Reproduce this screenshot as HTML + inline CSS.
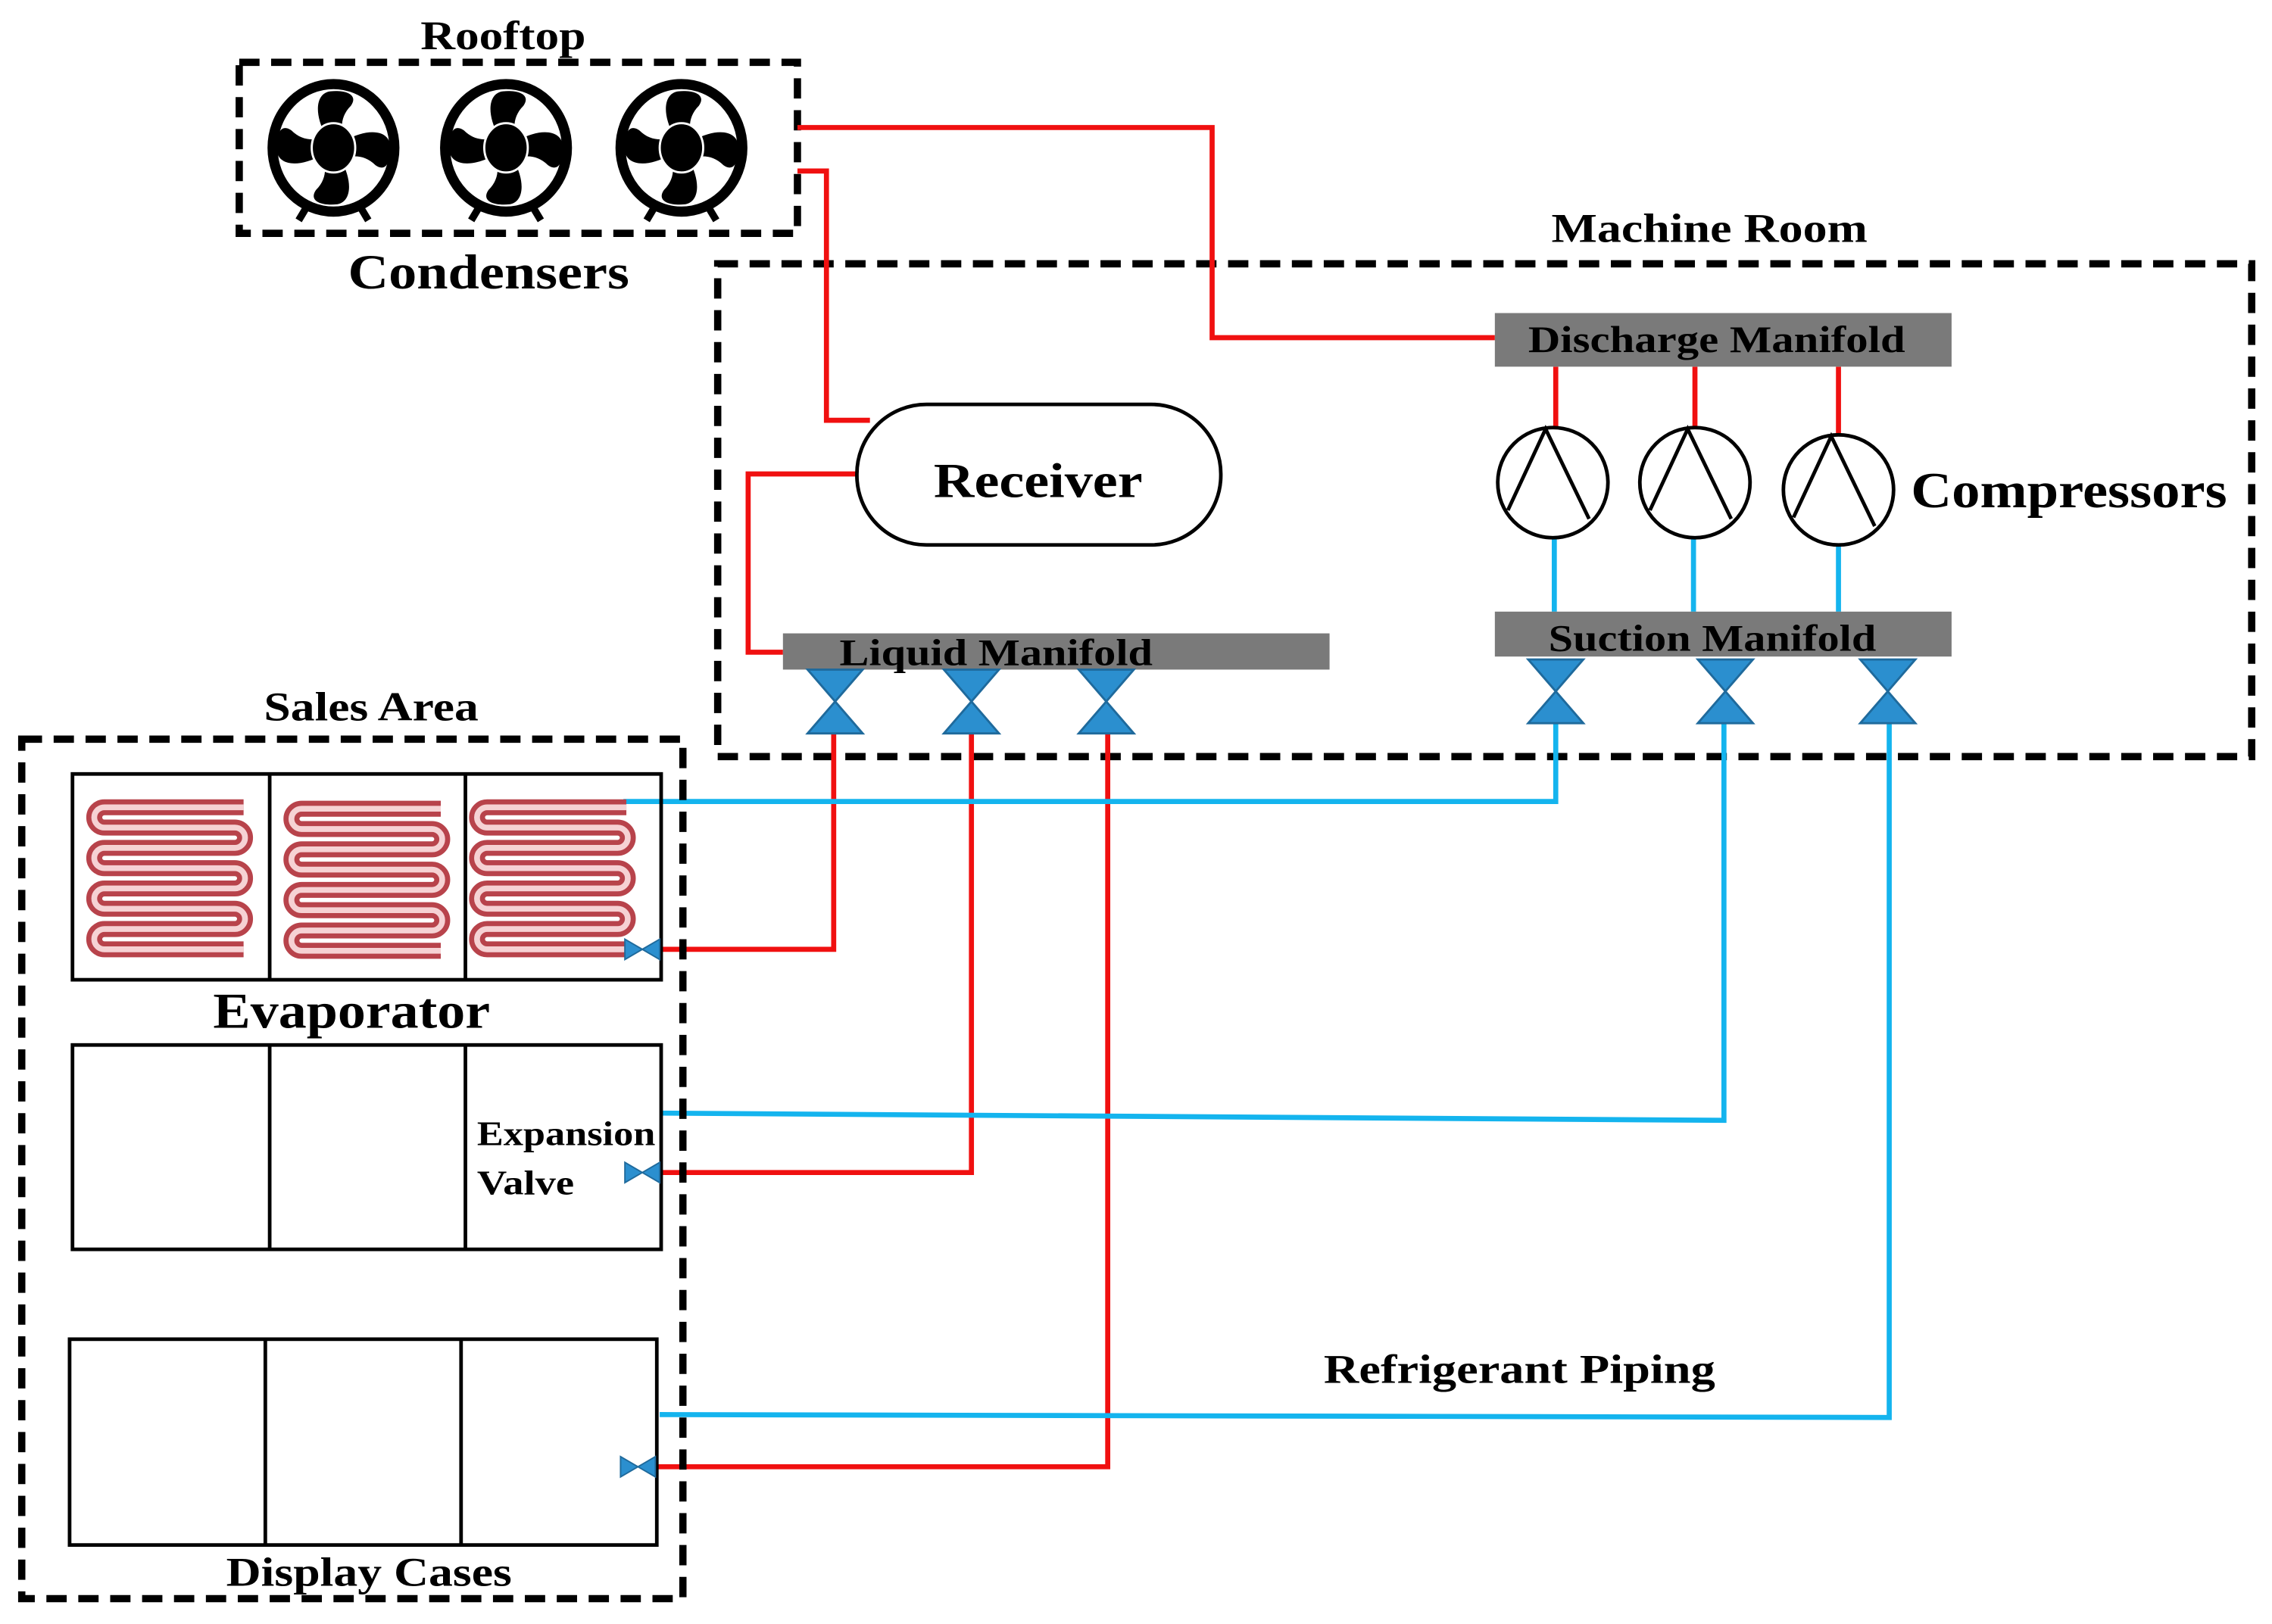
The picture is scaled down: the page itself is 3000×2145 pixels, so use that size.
<!DOCTYPE html>
<html><head><style>html,body{margin:0;padding:0;background:#fff}svg{display:block}</style></head><body>
<svg width="3000" height="2145" viewBox="0 0 1567 1120.5" preserveAspectRatio="none" xmlns="http://www.w3.org/2000/svg" font-family="Liberation Serif, serif" font-weight="bold">
<defs>
<g id="fan">
<ellipse cx="0" cy="0" rx="42" ry="44" fill="none" stroke="#000" stroke-width="7"/>
<path d="M-18,40 L-24,50 M18,40 L24,50" stroke="#000" stroke-width="5"/>
<g id="bl"><path d="M-5,-8 C-14,-24 -12,-38 -2,-39 C10,-40 17,-36 12,-29 C5,-22 5,-14 7,-8 Z" fill="#000"/></g>
<use href="#bl" transform="rotate(90)"/><use href="#bl" transform="rotate(180)"/><use href="#bl" transform="rotate(270)"/>
<ellipse cx="0" cy="0" rx="15" ry="17" fill="#000" stroke="#fff" stroke-width="1.5"/>
</g>
<path id="coilp" d="M106,557 L10,557 A7,7 0 0 0 10,571 L100,571 A7,7 0 0 1 100,585 L10,585 A7,7 0 0 0 10,599 L100,599 A7,7 0 0 1 100,613 L10,613 A7,7 0 0 0 10,627 L100,627 A7,7 0 0 1 100,641 L10,641 A7,7 0 0 0 10,655 L106,655"/>
<g id="coil"><use href="#coilp" fill="none" stroke="#b8434b" stroke-width="11"/><use href="#coilp" fill="none" stroke="#f6d2d4" stroke-width="4"/></g>
<g id="vv"><polygon points="-19,0 19,0 0,22 -19,44 19,44" fill="#2b8fcf" stroke="#1f6a9c" stroke-width="1.5"/></g>
<g id="hv"><polygon points="0,-7 0,7 12,0 24,-7 24,7 12,0" fill="#2b8fcf" stroke="#1f6a9c" stroke-width="1"/></g>
</defs>

<text x="290" y="34" font-size="28" textLength="114" lengthAdjust="spacingAndGlyphs">Rooftop</text>
<rect x="165" y="43" width="385" height="118" fill="none" stroke="#000" stroke-width="5" stroke-dasharray="14,8"/>
<use href="#fan" x="230" y="102"/><use href="#fan" x="349" y="102"/><use href="#fan" x="470" y="102"/>
<text x="240" y="199" font-size="34" textLength="194" lengthAdjust="spacingAndGlyphs">Condensers</text>

<text x="1070" y="167" font-size="28" textLength="218" lengthAdjust="spacingAndGlyphs">Machine Room</text>
<rect x="495" y="182" width="1058" height="340" fill="none" stroke="#000" stroke-width="5" stroke-dasharray="14,8"/>

<g fill="none" stroke="#f01010" stroke-width="3.5">
<polyline points="550,88 836,88 836,233 1031,233"/>
<polyline points="550,118 570,118 570,290 600,290"/>
<polyline points="591,327 516,327 516,450 540,450"/>
<line x1="1073" y1="253" x2="1073" y2="295"/><line x1="1169" y1="253" x2="1169" y2="295"/><line x1="1268" y1="253" x2="1268" y2="300"/>
<polyline points="575,506 575,655 455,655"/>
<polyline points="670,506 670,809 455,809"/>
<polyline points="764,506 764,1012 452,1012"/>
</g>
<g fill="none" stroke="#14b4ee" stroke-width="3.5">
<line x1="1072" y1="371" x2="1072" y2="422"/><line x1="1168" y1="371" x2="1168" y2="422"/><line x1="1268" y1="376" x2="1268" y2="422"/>
<polyline points="1073,498 1073,553 430,553"/>
<polyline points="1189,498 1189,773 455,768"/>
<polyline points="1303,498 1303,978 455,976"/>
</g>

<rect x="1031" y="216" width="315" height="37" fill="#7a7a7a"/>
<text x="1054" y="243" font-size="26" textLength="260" lengthAdjust="spacingAndGlyphs">Discharge Manifold</text>
<g fill="#fff" stroke="#000" stroke-width="2.5">
<circle cx="1071" cy="333" r="38"/><circle cx="1169" cy="333" r="38"/><circle cx="1268" cy="338" r="38"/>
</g>
<g fill="none" stroke="#000" stroke-width="2.5">
<polyline points="1040,352 1066,296 1096,358"/><polyline points="1138,352 1164,296 1194,358"/><polyline points="1237,357 1263,301 1293,363"/>
</g>
<text x="1318" y="350" font-size="35" textLength="218" lengthAdjust="spacingAndGlyphs">Compressors</text>
<rect x="1031" y="422" width="315" height="31" fill="#7a7a7a"/>
<text x="1068" y="449" font-size="26" textLength="226" lengthAdjust="spacingAndGlyphs">Suction Manifold</text>

<rect x="591" y="279" width="251" height="97" rx="48" fill="#fff" stroke="#000" stroke-width="2.5"/>
<text x="644" y="343" font-size="34" textLength="144" lengthAdjust="spacingAndGlyphs">Receiver</text>

<rect x="540" y="437" width="377" height="25" fill="#7a7a7a"/>
<text x="579" y="459" font-size="26" textLength="216" lengthAdjust="spacingAndGlyphs">Liquid Manifold</text>

<use href="#vv" x="576" y="462"/><use href="#vv" x="670" y="462"/><use href="#vv" x="763" y="462"/>
<use href="#vv" x="1073" y="455"/><use href="#vv" x="1190" y="455"/><use href="#vv" x="1302" y="455"/>

<text x="182" y="497" font-size="28" textLength="148" lengthAdjust="spacingAndGlyphs">Sales Area</text>
<rect x="15" y="510" width="456" height="593" fill="none" stroke="#000" stroke-width="5" stroke-dasharray="14,8"/>

<g fill="none" stroke="#000" stroke-width="2.5">
<rect x="50" y="534" width="406" height="142"/><line x1="186" y1="534" x2="186" y2="676"/><line x1="321" y1="534" x2="321" y2="676"/>
<rect x="50" y="721" width="406" height="141"/><line x1="186" y1="721" x2="186" y2="862"/><line x1="321" y1="721" x2="321" y2="862"/>
<rect x="48" y="924" width="405" height="142"/><line x1="183" y1="924" x2="183" y2="1066"/><line x1="318" y1="924" x2="318" y2="1066"/>
</g>
<use href="#coil" x="62" y="0"/><use href="#coil" x="198" y="1"/><use href="#coil" x="326" y="0"/>

<use href="#hv" x="431" y="655"/><use href="#hv" x="431" y="809"/><use href="#hv" x="428" y="1012"/>

<text x="147" y="709" font-size="35" textLength="191" lengthAdjust="spacingAndGlyphs">Evaporator</text>
<text x="329" y="790" font-size="24" textLength="123" lengthAdjust="spacingAndGlyphs">Expansion</text>
<text x="329" y="824" font-size="24" textLength="67" lengthAdjust="spacingAndGlyphs">Valve</text>
<text x="156" y="1094" font-size="28" textLength="197" lengthAdjust="spacingAndGlyphs">Display Cases</text>
<text x="913" y="954" font-size="28" textLength="270" lengthAdjust="spacingAndGlyphs">Refrigerant Piping</text>
</svg>
</body></html>
